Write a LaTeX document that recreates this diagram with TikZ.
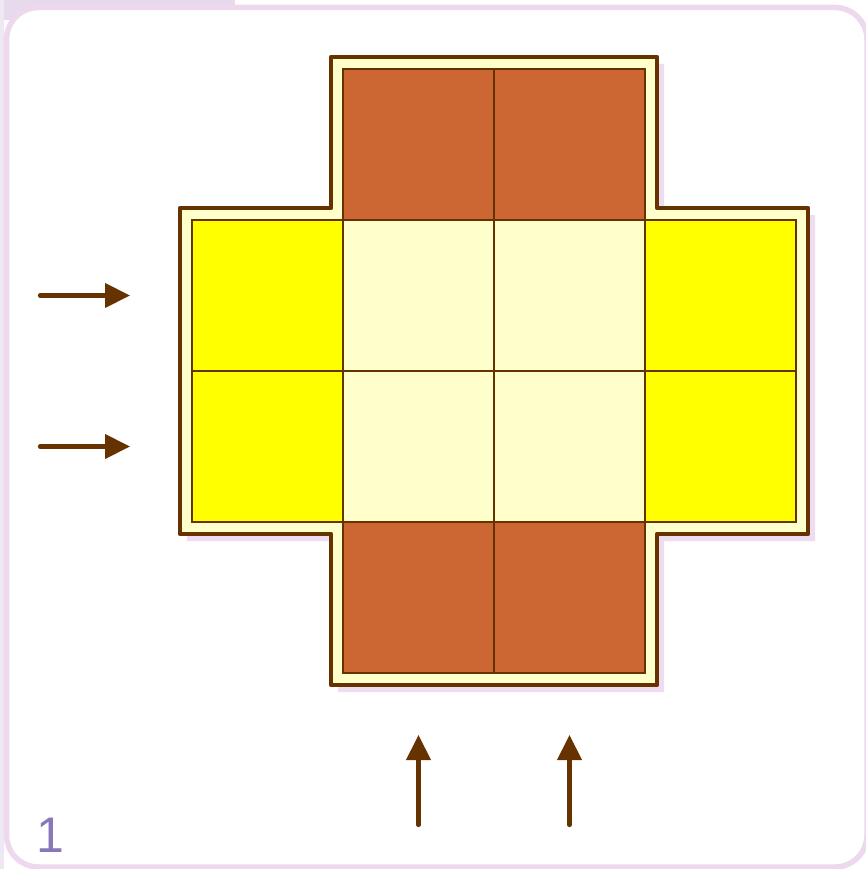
\documentclass[tikz,border=0pt]{standalone}
\usepackage{fontspec}
\setmainfont{Liberation Sans}
\usetikzlibrary{arrows.meta}
\definecolor{outl}{HTML}{663300}
\definecolor{brick}{HTML}{CC6633}
\definecolor{yel}{HTML}{FFFF00}
\definecolor{pale}{HTML}{FFFFCC}
\definecolor{shad}{HTML}{EEDCF0}
\definecolor{frame}{HTML}{EED8EE}
\definecolor{tab}{HTML}{E7DAEC}
\definecolor{strip}{HTML}{EEE8F3}
\definecolor{lbl}{HTML}{8878B8}
\tikzset{
  cell/.style={draw=outl, line width=2.6pt, minimum size=151pt, inner sep=0pt, outer sep=0pt},
  brickcell/.style={cell, fill=brick},
  yelcell/.style={cell, fill=yel},
  palecell/.style={cell, fill=pale},
  pusharrow/.style={draw=outl, line width=4.2pt, line cap=round, -{Triangle[length=25pt,width=24pt]}},
}
\begin{document}
\begin{tikzpicture}[x=1pt,y=-1pt]
\useasboundingbox (0,0) rectangle (866,869);
% background
\fill[white] (0,0) rectangle (866,869);
\fill[tab] (0,0) rectangle (235,20);
\fill[strip] (0,0) rectangle (4,869);
\draw[frame, line width=5.5pt, rounded corners=32pt, fill=white] (6.5,7.5) rectangle (867,867);
% shadow of the cross
\fill[shad] (338,64) -- (664,64) -- (664,215) -- (815,215) -- (815,541) -- (664,541) -- (664,692) -- (338,692) -- (338,541) -- (187,541) -- (187,215) -- (338,215) -- cycle;
% cross plate
\draw[outl, fill=pale, line width=4.4pt, line join=round] (331,57) -- (657,57) -- (657,208) -- (808,208) -- (808,534) -- (657,534) -- (657,685) -- (331,685) -- (331,534) -- (180,534) -- (180,208) -- (331,208) -- cycle;
% cells
\node[brickcell] (t1) at (418.5,144.5) {};
\node[brickcell] (t2) at (569.5,144.5) {};
\node[yelcell] (l1) at (267.5,295.5) {};
\node[palecell] (m11) at (418.5,295.5) {};
\node[palecell] (m12) at (569.5,295.5) {};
\node[yelcell] (r1) at (720.5,295.5) {};
\node[yelcell] (l2) at (267.5,446.5) {};
\node[palecell] (m21) at (418.5,446.5) {};
\node[palecell] (m22) at (569.5,446.5) {};
\node[yelcell] (r2) at (720.5,446.5) {};
\node[brickcell] (b1) at (418.5,597.5) {};
\node[brickcell] (b2) at (569.5,597.5) {};
% arrows
\coordinate (a1s) at (40,295.5);
\coordinate (a1e) at (130,295.5);
\coordinate (a2s) at (40,446.5);
\coordinate (a2e) at (130,446.5);
\coordinate (a3s) at (418.5,825);
\coordinate (a3e) at (418.5,735);
\coordinate (a4s) at (569.5,825);
\coordinate (a4e) at (569.5,735);
\draw[pusharrow] (a1s) -- (a1e);
\draw[pusharrow] (a2s) -- (a2e);
\draw[pusharrow] (a3s) -- (a3e);
\draw[pusharrow] (a4s) -- (a4e);
% label
\node[anchor=base west, inner sep=0pt, text=lbl, font=\fontsize{50pt}{56pt}\selectfont] (num) at (36,852) {1};
\end{tikzpicture}
\end{document}
